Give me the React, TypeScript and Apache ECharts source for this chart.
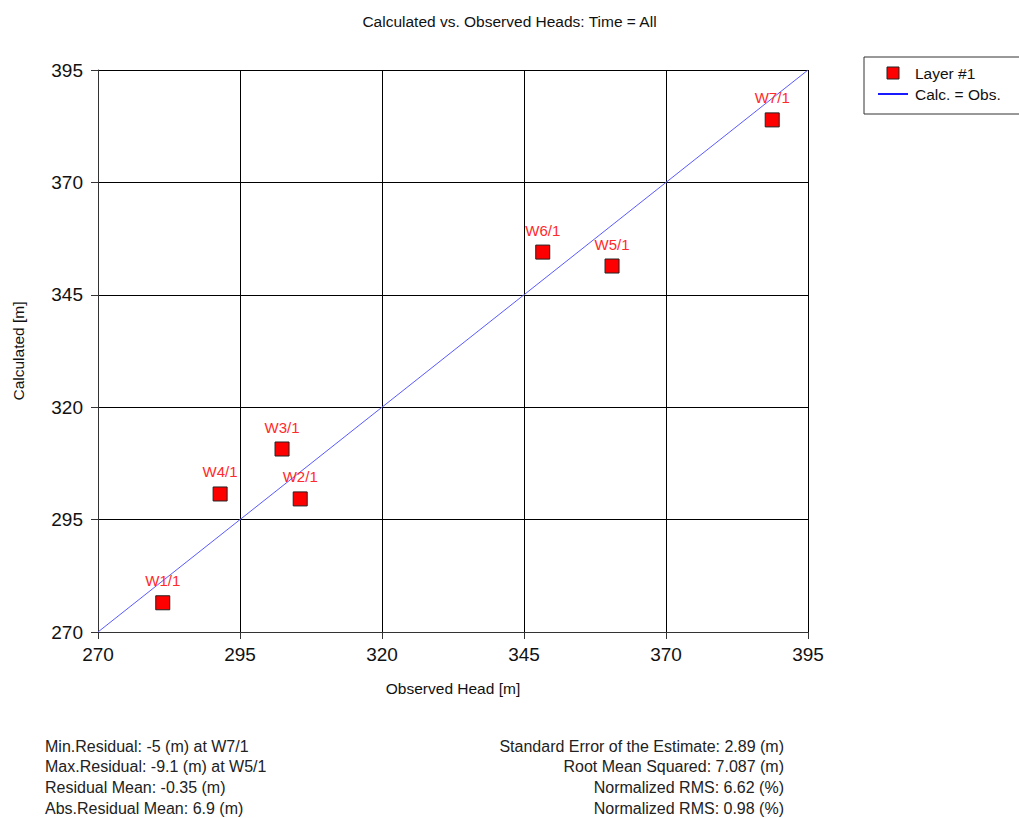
import React, { useEffect, useRef } from "react";
import * as echarts from "echarts";

const wellNames = ["W1/1", "W4/1", "W3/1", "W2/1", "W6/1", "W5/1", "W7/1"];
const observedHeads = [281.4, 291.5, 302.4, 305.6, 348.3, 360.5, 388.7];
const calculatedHeads = [276.5, 300.7, 310.7, 299.6, 354.5, 351.4, 383.9];
const axisMin = 270;
const axisMax = 395;
const axisStep = 25;
const legendNames = ["Layer #1", "Calc. = Obs."];
const statsLeft = [
  "Min.Residual: -5 (m) at W7/1",
  "Max.Residual: -9.1 (m) at W5/1",
  "Residual Mean: -0.35 (m)",
  "Abs.Residual Mean: 6.9 (m)",
];
const statsRight = [
  "Standard Error of the Estimate: 2.89 (m)",
  "Root Mean Squared: 7.087 (m)",
  "Normalized RMS: 6.62 (%)",
  "Normalized RMS: 0.98 (%)",
];

const FONT = "Liberation Sans, Arial, sans-serif";

export default function App() {
  const ref = useRef<HTMLDivElement>(null);
  useEffect(() => {
    if (!ref.current) return;
    const chart = echarts.init(ref.current, null, { renderer: "svg" });
    // ticks are counted from min: plot offsets from axisMin, label with the real values
    const toAxis = (v: number) => v - axisMin;
    const span = axisMax - axisMin;
    const scatterData = observedHeads.map((x, i) => ({
      name: wellNames[i],
      value: [toAxis(x), toAxis(calculatedHeads[i])],
    }));
    const lineData = [
      [toAxis(axisMin), toAxis(axisMin)],
      [toAxis(axisMax), toAxis(axisMax)],
    ];
    const axisCommon = {
      type: "value",
      min: 0,
      max: span,
      interval: axisStep,
      axisLine: { show: true, onZero: false, lineStyle: { color: "#333", width: 1 } },
      axisTick: { show: true, inside: false, length: 7, lineStyle: { color: "#333" } },
      axisLabel: {
        formatter: (v: number) => String(v + axisMin),
        color: "#111",
        fontSize: 19,
        fontFamily: FONT,
      },
      splitLine: { show: true, lineStyle: { color: "#000", width: 1 } },
      nameTextStyle: { color: "#111", fontSize: 15.5, fontFamily: FONT },
    };
    const textLines: any[] = [];
    statsLeft.forEach((t, i) => {
      textLines.push({
        type: "text",
        x: 45,
        y: 738 + i * 20.7,
        style: { text: t, fill: "#222", fontSize: 16, fontFamily: FONT },
      });
    });
    statsRight.forEach((t, i) => {
      textLines.push({
        type: "text",
        x: 784,
        y: 738 + i * 20.7,
        style: { text: t, fill: "#222", fontSize: 16, fontFamily: FONT, align: "right" },
      });
    });
    const legendGraphics: any[] = [
      {
        type: "rect",
        shape: { x: 864, y: 57, width: 170, height: 57 },
        style: { fill: "#fff", stroke: "#333", lineWidth: 1 },
      },
      {
        type: "rect",
        shape: { x: 887, y: 67, width: 12, height: 12 },
        style: { fill: "#ff0000", stroke: "#222", lineWidth: 1 },
      },
      {
        type: "line",
        shape: { x1: 878, y1: 94, x2: 908, y2: 94 },
        style: { stroke: "#1a1aff", lineWidth: 2 },
      },
      {
        type: "text",
        x: 915,
        y: 73,
        style: { text: legendNames[0], fill: "#111", fontSize: 15.5, fontFamily: FONT, verticalAlign: "middle" },
      },
      {
        type: "text",
        x: 915,
        y: 94,
        style: { text: legendNames[1], fill: "#111", fontSize: 15.5, fontFamily: FONT, verticalAlign: "middle" },
      },
    ];
    chart.setOption({
      animation: false,
      backgroundColor: "#fff",
      title: {
        text: "Calculated vs. Observed Heads: Time = All",
        left: "center",
        top: 8,
        textStyle: { fontSize: 15.5, fontWeight: "normal", color: "#111", fontFamily: FONT },
      },
      grid: { left: 98, right: 211, top: 70, bottom: 186, containLabel: false },
      xAxis: {
        ...axisCommon,
        name: "Observed Head [m]",
        nameLocation: "middle",
        nameGap: 48,
        axisLabel: { ...axisCommon.axisLabel, margin: 13 },
      },
      yAxis: {
        ...axisCommon,
        name: "Calculated [m]",
        nameLocation: "middle",
        nameGap: 72,
        axisLabel: { ...axisCommon.axisLabel, margin: 15 },
      },
      graphic: [...legendGraphics, ...textLines],
      series: [
        {
          name: legendNames[1],
          type: "line",
          data: lineData,
          symbol: "none",
          showSymbol: false,
          lineStyle: { color: "#5a5aff", width: 1 },
          z: 3,
        },
        {
          name: legendNames[0],
          type: "scatter",
          data: scatterData,
          symbol: "rect",
          symbolSize: 14,
          itemStyle: { color: "#ff0000", borderColor: "#222", borderWidth: 1, opacity: 1 },
          label: {
            show: true,
            position: "top",
            distance: 7,
            formatter: (p: any) => p.name,
            color: "#ff2a2a",
            fontSize: 15,
            fontFamily: FONT,
          },
          z: 4,
        },
      ],
    });
    return () => chart.dispose();
  }, []);
  return (
    <div
      ref={ref}
      style={{ position: "fixed", left: 0, top: 0, width: 1019, height: 818, background: "#fff" }}
    />
  );
}
